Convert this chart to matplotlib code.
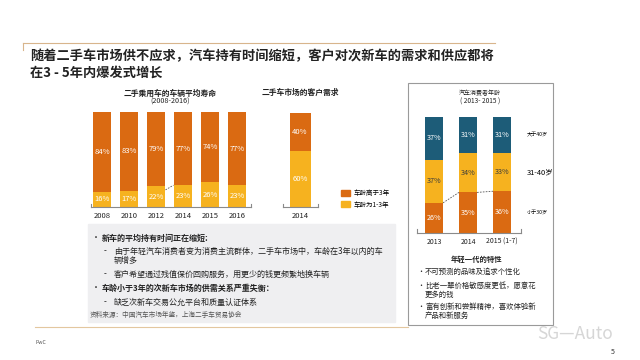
"""PwC slide: used-car market, car life and consumer age charts."""

import matplotlib
matplotlib.use("Agg")
import matplotlib.pyplot as plt
from matplotlib.patches import Rectangle, Patch

plt.rcParams["font.family"] = ["Noto Sans CJK SC", "DejaVu Sans"]

W, H = 640, 360

ORANGE = "#DA6A12"
YELLOW = "#F6B21F"
TEAL = "#1D5C78"
AXIS_GRAY = "#8a8a8a"
TEXT = "#222222"

# --- data ---
life_years = ["2008", "2010", "2012", "2014", "2015", "2016"]
life_over3 = [84, 83, 79, 77, 74, 77]
life_1to3 = [16, 17, 22, 23, 26, 23]

demand_years = ["2014"]
demand_over3 = [40]
demand_1to3 = [60]

age_years = ["2013", "2014", "2015 (1-7)"]
age_under30 = [26, 35, 36]
age_31_40 = [37, 34, 33]
age_over40 = [37, 31, 31]
age_labels = ["小于30岁", "31-40岁", "大于40岁"]

title_lines = ["随着二手车市场供不应求，汽车持有时间缩短，客户对次新车的需求和供应都将",
               "在3 - 5年内爆发式增长"]

notes = [
    ("•", "新车的平均持有时间正在缩短:", True, 238),
    ("-", "由于年轻汽车消费者变为消费主流群体，二手车市场中，车龄在3年以内的车", False, 251),
    ("", "辆增多", False, 260),
    ("-", "客户希望通过残值保价回购服务，用更少的钱更频繁地换车辆", False, 274),
    ("•", "车龄小于3年的次新车市场的供需关系严重失衡：", True, 288),
    ("-", "缺乏次新车交易公允平台和质量认证体系", False, 302),
]

young_points = [
    ("•", "不可预测的品味及追求个性化", 272),
    ("•", "比老一辈价格敏感度更低，愿意花", 286),
    ("", "更多的钱", 295),
    ("•", "富有创新和尝鲜精神，喜欢体验新", 307),
    ("", "产品和新服务", 316),
]


def px_axes(fig, x0, y0, x1, y1):
    return fig.add_axes([x0 / W, 1 - y1 / H, (x1 - x0) / W, (y1 - y0) / H])


def ftext(fig, x, y, s, **kw):
    kw.setdefault("color", TEXT)
    kw.setdefault("va", "center")
    return fig.text(x / W, 1 - y / H, s, **kw)


def style_axis(ax, labels, size):
    for side in ("top", "right", "left"):
        ax.spines[side].set_visible(False)
    ax.spines["bottom"].set_color(AXIS_GRAY)
    ax.spines["bottom"].set_linewidth(0.8)
    ax.set_yticks([])
    ax.set_xticks(range(len(labels)))
    ax.set_xticklabels(labels, fontsize=size, color=TEXT)
    ax.tick_params(axis="x", length=0, pad=3.5)
    # small end caps on the axis line
    for xe in (0, 1):
        ax.plot([xe, xe], [0, 0.035], transform=ax.transAxes, color=AXIS_GRAY,
                lw=0.8, clip_on=False)


fig = plt.figure(figsize=(W / 100, H / 100), dpi=100)
fig.patch.set_facecolor("white")

# title with tan rule
fig.add_artist(plt.Line2D([23 / W, 495 / W], [1 - 43 / H, 1 - 43 / H], color="#D8B58C", lw=0.8))
fig.add_artist(plt.Line2D([23 / W, 23 / W], [1 - 43 / H, 1 - 50 / H], color="#D8B58C", lw=0.8))
ftext(fig, 30, 56, title_lines[0], fontsize=9.5, weight="bold")
ftext(fig, 30, 73, title_lines[1], fontsize=9.5, weight="bold")

# --- left chart: average life ---
ax1 = px_axes(fig, 91.2, 112, 250.5, 207)
x1 = range(len(life_years))
ax1.bar(x1, life_1to3, width=0.7, color=YELLOW, edgecolor="none")
ax1.bar(x1, life_over3, bottom=life_1to3, width=0.7, color=ORANGE, edgecolor="none")
for i, (lo, hi) in enumerate(zip(life_1to3, life_over3)):
    ax1.text(i, lo / 2, f"{lo}%", ha="center", va="center", fontsize=5.5, color="white")
    ax1.text(i, lo + hi / 2, f"{hi}%", ha="center", va="center", fontsize=5.5, color="white")
ax1.plot([2 + 0.35, 3 - 0.35], [life_1to3[2] - 4, life_1to3[3]], ls=(0, (2, 1.5)),
         color="#555555", lw=0.6)
ax1.set_xlim(-0.4, 5.5)
ax1.set_ylim(0, 100)
style_axis(ax1, life_years, 5.5)
ftext(fig, 170, 93, "二手乘用车的车辆平均寿命", fontsize=5.6, weight="bold", ha="center")
ftext(fig, 170, 102, "(2008-2016)", fontsize=5.2, ha="center")

# --- middle chart: customer demand ---
ax2 = px_axes(fig, 282.5, 113, 317.5, 207)
ax2.bar(range(len(demand_years)), demand_1to3, width=0.6, color=YELLOW, edgecolor="none")
ax2.bar(range(len(demand_years)), demand_over3, bottom=demand_1to3, width=0.6,
        color=ORANGE, edgecolor="none")
for i, (lo, hi) in enumerate(zip(demand_1to3, demand_over3)):
    ax2.text(i, lo / 2, f"{lo}%", ha="center", va="center", fontsize=5.5, color="white")
    ax2.text(i, lo + hi / 2, f"{hi}%", ha="center", va="center", fontsize=5.5, color="white")
ax2.set_xlim(-0.5, 0.5)
ax2.set_ylim(0, 100)
style_axis(ax2, demand_years, 5.5)
ftext(fig, 300, 92, "二手车市场的客户需求", fontsize=5.6, weight="bold", ha="center")
fig.legend(handles=[Patch(color=ORANGE, label="车龄高于3年"), Patch(color=YELLOW, label="车龄为1-3年")],
           loc="upper left", bbox_to_anchor=(338 / W, 1 - 186 / H), frameon=False,
           fontsize=4.7, handlelength=1.4, handleheight=1.0, handletextpad=0.5,
           labelspacing=0.5, borderpad=0)

# --- note box ---
fig.patches.append(Rectangle((88 / W, 1 - 322 / H), (395 - 88) / W, (322 - 224) / H,
                             transform=fig.transFigure, color="#EFEFF1", zorder=0))
for mark, line, bold, y in notes:
    indent = 0 if bold else 12
    if mark:
        ftext(fig, 92 + indent, y, mark, fontsize=5.8)
    ftext(fig, 102 + indent, y, line, fontsize=5.8, weight="bold" if bold else "normal")
ftext(fig, 90, 315, "资料来源：中国汽车市场年鉴，上海二手车贸易协会", fontsize=4.8, color="#555555")

# --- right panel: consumer age ---
fig.patches.append(Rectangle((408 / W, 1 - 325 / H), (553 - 408) / W, (325 - 83) / H,
                             transform=fig.transFigure, fill=False, edgecolor="#9a9a9a",
                             lw=0.8, zorder=0))
ftext(fig, 480, 93, "汽车消费者年龄", fontsize=4.3, ha="center")
ftext(fig, 480, 102, "( 2013- 2015 )", fontsize=4.7, ha="center")

ax3 = px_axes(fig, 417, 117, 520.7, 233)
x3 = range(len(age_years))
mid = [a + b for a, b in zip(age_under30, age_31_40)]
ax3.bar(x3, age_under30, width=0.53, color=ORANGE, edgecolor="none")
ax3.bar(x3, age_31_40, bottom=age_under30, width=0.53, color=YELLOW, edgecolor="none")
ax3.bar(x3, age_over40, bottom=mid, width=0.53, color=TEAL, edgecolor="none")
for i in x3:
    ax3.text(i, age_under30[i] / 2, f"{age_under30[i]}%", ha="center", va="center",
             fontsize=5.2, color="white")
    ax3.text(i, age_under30[i] + age_31_40[i] / 2, f"{age_31_40[i]}%", ha="center",
             va="center", fontsize=5.2, color="#3a3a3a")
    ax3.text(i, mid[i] + age_over40[i] / 2, f"{age_over40[i]}%", ha="center", va="center",
             fontsize=5.2, color="white")
for i in range(len(age_years) - 1):
    ax3.plot([i + 0.265, i + 1 - 0.265], [age_under30[i], age_under30[i + 1]],
             ls=(0, (2, 1.5)), color="#555555", lw=0.6)
last = len(age_years) - 1
ax3.text(last + 0.74, age_under30[last] / 2, age_labels[0], fontsize=3.7, va="center")
ax3.text(last + 0.74, age_under30[last] + age_31_40[last] / 2, age_labels[1], fontsize=5.4,
         va="center")
ax3.text(last + 0.74, mid[last] + age_over40[last] / 2, age_labels[2], fontsize=3.7,
         va="center")
ax3.set_xlim(-0.5, 2.55)
ax3.set_ylim(0, 100)
style_axis(ax3, age_years, 5)

ftext(fig, 477, 259, "年轻一代的特性", fontsize=5.3, weight="bold", ha="center")
for mark, line, y in young_points:
    if mark:
        ftext(fig, 417, y, mark, fontsize=5)
    ftext(fig, 425, y, line, fontsize=5.3)

# --- footer ---
fig.add_artist(plt.Line2D([35 / W, 408 / W], [1 - 327 / H, 1 - 327 / H], color="#E3C79F", lw=0.8))
ftext(fig, 35, 342, "PwC", fontsize=3.8, color="#555555")
ftext(fig, 611, 352, "5", fontsize=5, color="#333333")
ftext(fig, 537, 334, "SG—Auto", fontsize=12.5, color="#d6d6d6")

fig.savefig("out.png", dpi=100)
